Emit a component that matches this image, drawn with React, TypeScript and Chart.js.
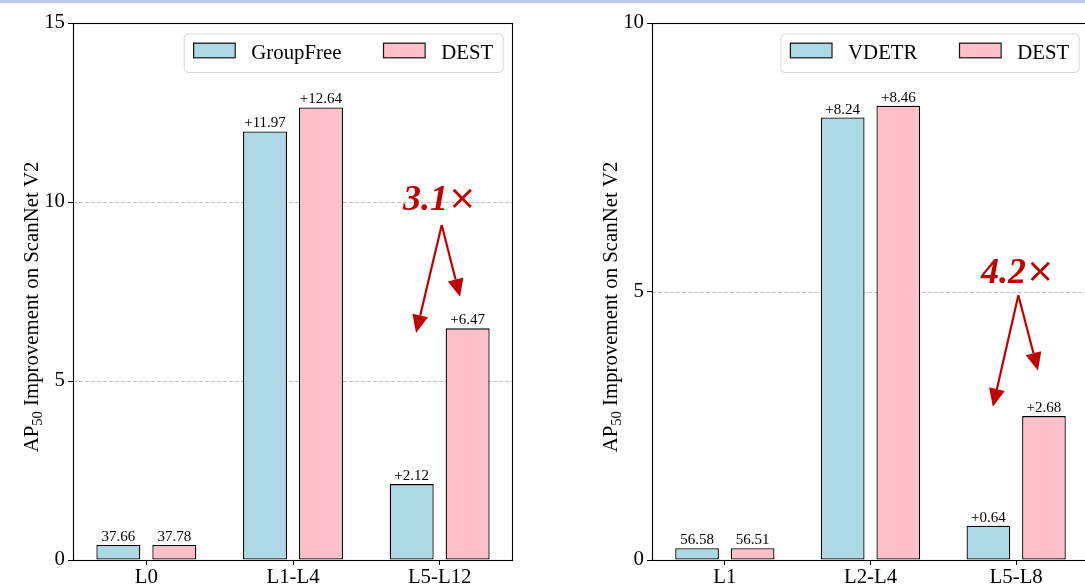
import React, { useEffect, useRef } from "react";
import { Chart, registerables } from "chart.js";

Chart.register(...registerables);

const FONT = "'Liberation Serif', 'Times New Roman', Times, serif";

// ---------- Data (left panel) ----------
const leftCategories = ["L0", "L1-L4", "L5-L12"];
const groupFreeValues = [0.42, 11.97, 2.12];
const destLeftValues = [0.42, 12.64, 6.47];
const groupFreeLabels = ["37.66", "+11.97", "+2.12"];
const destLeftLabels = ["37.78", "+12.64", "+6.47"];
const leftYMax = 15;

// ---------- Data (right panel) ----------
const rightCategories = ["L1", "L2-L4", "L5-L8"];
const vdetrValues = [0.22, 8.24, 0.64];
const destRightValues = [0.22, 8.46, 2.68];
const vdetrLabels = ["56.58", "+8.24", "+0.64"];
const destRightLabels = ["56.51", "+8.46", "+2.68"];
const rightYMax = 10;

const yStep = 5;

// annotation (data units)
const leftAnnotation = { text: "3.1", x: 2.0, y: 9.78, from: [2.014, 9.36], to: [[1.839, 6.34], [2.139, 7.35]] };
const rightAnnotation = { text: "4.2", x: 2.01, y: 5.16, from: [2.015, 4.93], to: [[1.84, 2.855], [2.15, 3.525]] };

const BLUE = "#add8e6";
const PINK = "#ffc0cb";
const RED = "#c00000";
const TICK_FS = 20.8;

function drawArrow(ctx: CanvasRenderingContext2D, x0: number, y0: number, x1: number, y1: number) {
  const ang = Math.atan2(y1 - y0, x1 - x0);
  const hl = 18;
  const hw = 8;
  const bx = x1 - hl * Math.cos(ang);
  const by = y1 - hl * Math.sin(ang);
  ctx.beginPath();
  ctx.moveTo(x0, y0);
  ctx.lineTo(bx, by);
  ctx.stroke();
  ctx.beginPath();
  ctx.moveTo(x1, y1);
  ctx.lineTo(bx + hw * Math.sin(ang), by - hw * Math.cos(ang));
  ctx.lineTo(bx - hw * Math.sin(ang), by + hw * Math.cos(ang));
  ctx.closePath();
  ctx.fill();
}

const decorPlugin = {
  id: "decor",
  beforeDatasetsDraw(chart: any) {
    const ctx = chart.ctx as CanvasRenderingContext2D;
    const area = chart.chartArea;
    const y = chart.scales.y;
    ctx.save();
    ctx.strokeStyle = "#c4c4c4";
    ctx.lineWidth = 1;
    ctx.setLineDash([4, 2]);
    y.ticks.forEach((t: any) => {
      if (t.value <= y.min || t.value >= y.max) return;
      const py = Math.round(y.getPixelForValue(t.value)) + 0.5;
      ctx.beginPath();
      ctx.moveTo(area.left, py);
      ctx.lineTo(area.right, py);
      ctx.stroke();
    });
    ctx.restore();
  },
  afterDatasetsDraw(chart: any, _args: any, opts: any) {
    const ctx = chart.ctx as CanvasRenderingContext2D;
    const area = chart.chartArea;
    const xs = chart.scales.x;
    const ys = chart.scales.y;

    // value labels
    ctx.save();
    ctx.font = `15px ${FONT}`;
    ctx.fillStyle = "#000";
    ctx.textAlign = "center";
    ctx.textBaseline = "alphabetic";
    chart.data.datasets.forEach((ds: any, di: number) => {
      const meta = chart.getDatasetMeta(di);
      const labels = opts.valueLabels[di];
      meta.data.forEach((el: any, i: number) => {
        ctx.fillText(labels[i], el.x, el.y - 4);
      });
    });
    ctx.restore();

    // spines
    ctx.save();
    ctx.strokeStyle = "#000";
    ctx.lineWidth = 1.1;
    ctx.strokeRect(area.left + 0.5, area.top + 0.5, area.right - area.left - 1, area.bottom - area.top);
    ctx.restore();

    // legend
    ctx.save();
    const fs = 20.8;
    ctx.font = `${fs}px ${FONT}`;
    const handleW = 41.6, handleH = 14.6, textPad = 16.6, colSp = 41.6, pad = 9.4, h = 38.6;
    const items = chart.data.datasets.map((d: any) => ({
      label: d.label,
      color: d.backgroundColor,
      w: ctx.measureText(d.label).width,
    }));
    const total = pad * 2 + items.reduce((s: number, it: any) => s + handleW + textPad + it.w, 0) + colSp * (items.length - 1);
    const right = area.right - 10.4;
    const top = area.top + 10.4;
    const left = right - total;
    ctx.beginPath();
    (ctx as any).roundRect(left + 0.5, top + 0.5, total, h, 4);
    ctx.fillStyle = "rgba(255,255,255,0.8)";
    ctx.fill();
    ctx.strokeStyle = "#d6d6d6";
    ctx.lineWidth = 1;
    ctx.stroke();
    let x = left + pad;
    const cy = top + h / 2;
    items.forEach((it: any) => {
      ctx.fillStyle = it.color;
      ctx.fillRect(x, cy - 10, handleW, handleH);
      ctx.strokeStyle = "#111";
      ctx.lineWidth = 1.2;
      ctx.strokeRect(x + 0.5, cy - 10 + 0.5, handleW, handleH);
      x += handleW + textPad;
      ctx.fillStyle = "#000";
      ctx.textAlign = "left";
      ctx.textBaseline = "alphabetic";
      ctx.fillText(it.label, x, cy + 6.5);
      x += it.w + colSp;
    });
    ctx.restore();

    // annotation
    const an = opts.annotation;
    ctx.save();
    ctx.fillStyle = RED;
    ctx.strokeStyle = RED;
    ctx.lineWidth = 2.2;
    const boldFont = `italic bold 36px ${FONT}`;
    const regFont = `34px 'DejaVu Sans', sans-serif`;
    ctx.font = boldFont;
    const w1 = ctx.measureText(an.text).width;
    ctx.font = regFont;
    const w2 = ctx.measureText("\u00d7").width;
    const tx = xs.getPixelForValue(an.x) - (w1 + w2) / 2;
    const ty = ys.getPixelForValue(an.y);
    ctx.textAlign = "left";
    ctx.textBaseline = "alphabetic";
    ctx.font = boldFont;
    ctx.fillText(an.text, tx, ty);
    ctx.font = regFont;
    ctx.fillText("\u00d7", tx + w1, ty - 1);
    const sx = xs.getPixelForValue(an.from[0]);
    const sy = ys.getPixelForValue(an.from[1]);
    an.to.forEach((p: number[]) => {
      drawArrow(ctx, sx, sy, xs.getPixelForValue(p[0]), ys.getPixelForValue(p[1]));
    });
    ctx.restore();

    // y-axis title with subscript
    ctx.save();
    const tfs = 20.8;
    const sfs = 14.6;
    const p1 = "AP", p2 = "50", p3 = " Improvement on ScanNet V2";
    ctx.font = `${tfs}px ${FONT}`;
    const a1 = ctx.measureText(p1).width;
    const a3 = ctx.measureText(p3).width;
    ctx.font = `${sfs}px ${FONT}`;
    const a2 = ctx.measureText(p2).width;
    const tot = a1 + a2 + a3;
    ctx.translate(area.left - 35, opts.titleCenterY);
    ctx.rotate(-Math.PI / 2);
    ctx.fillStyle = "#000";
    ctx.textAlign = "left";
    ctx.textBaseline = "alphabetic";
    let cx = -tot / 2;
    ctx.font = `${tfs}px ${FONT}`;
    ctx.fillText(p1, cx, 0);
    cx += a1;
    ctx.font = `${sfs}px ${FONT}`;
    ctx.fillText(p2, cx, 4);
    cx += a2;
    ctx.font = `${tfs}px ${FONT}`;
    ctx.fillText(p3, cx, 0);
    ctx.restore();
  },
};

function buildConfig(p: any): any {
  const tickFont = { size: TICK_FS, family: FONT };
  const ds = (label: string, data: number[], color: string) => ({
    label,
    data,
    backgroundColor: color,
    borderColor: "#000",
    borderWidth: 1.3,
    borderSkipped: false,
    categoryPercentage: 0.763,
    barPercentage: 0.786,
  });
  return {
    type: "bar",
    data: {
      labels: p.categories,
      datasets: [ds(p.baseName, p.baseValues, BLUE), ds("DEST", p.destValues, PINK)],
    },
    options: {
      animation: false,
      responsive: false,
      layout: { padding: { top: 23, right: p.padRight, left: 0, bottom: 0 } },
      plugins: {
        legend: { display: false },
        tooltip: { enabled: false },
        decor: {
          valueLabels: [p.baseLabels, p.destLabels],
          annotation: p.annotation,
          titleCenterY: 307,
        },
      },
      scales: {
        x: {
          offset: true,
          grid: { offset: false, drawOnChartArea: false, drawTicks: true, tickLength: 5, color: "#000", lineWidth: 1 },
          border: { display: false },
          ticks: { font: tickFont, color: "#000", padding: 0, maxRotation: 0 },
          afterFit: (s: any) => {
            s.height = 25;
          },
        },
        y: {
          min: 0,
          max: p.yMax,
          ticks: { stepSize: yStep, font: tickFont, color: "#000", padding: 3 },
          grid: { drawOnChartArea: false, drawTicks: true, tickLength: 5, color: "#000", lineWidth: 1 },
          border: { display: false },
          afterFit: (s: any) => {
            s.width = p.yWidth;
          },
        },
      },
    },
    plugins: [decorPlugin],
  };
}

function Panel({ params, left, width }: { params: any; left: number; width: number }) {
  const ref = useRef<HTMLCanvasElement>(null);
  useEffect(() => {
    const chart = new Chart(ref.current as HTMLCanvasElement, buildConfig(params));
    return () => chart.destroy();
  }, []);
  return (
    <canvas
      ref={ref}
      width={width}
      height={585}
      style={{ position: "absolute", left, top: 0, width, height: 585, display: "block" }}
    />
  );
}

const leftParams = {
  categories: leftCategories,
  baseName: "GroupFree",
  baseValues: groupFreeValues,
  destValues: destLeftValues,
  baseLabels: groupFreeLabels,
  destLabels: destLeftLabels,
  yMax: leftYMax,
  yWidth: 73,
  padRight: 32,
  annotation: leftAnnotation,
};

const rightParams = {
  categories: rightCategories,
  baseName: "VDETR",
  baseValues: vdetrValues,
  destValues: destRightValues,
  baseLabels: vdetrLabels,
  destLabels: destRightLabels,
  yMax: rightYMax,
  yWidth: 107,
  padRight: 16,
  annotation: rightAnnotation,
};

export default function App() {
  return (
    <div
      style={{
        position: "absolute",
        left: 0,
        top: 0,
        width: 1085,
        height: 585,
        overflow: "hidden",
        background: "#fff",
      }}
    >
      <Panel params={leftParams} left={0} width={545} />
      <Panel params={rightParams} left={545} width={560} />
      <div style={{ position: "absolute", left: 0, top: 0, width: 1085, height: 3, background: "#b6c9e8" }} />
    </div>
  );
}
